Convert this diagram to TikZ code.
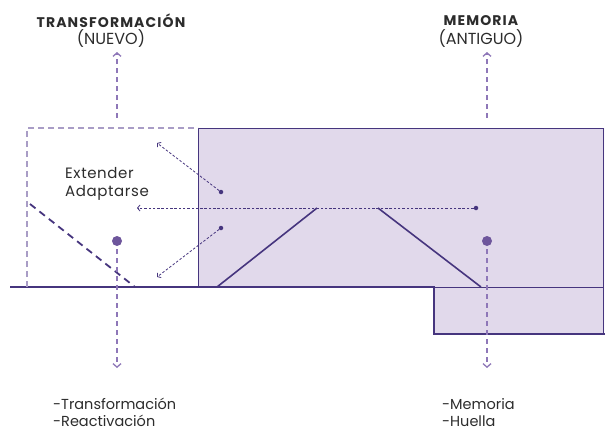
\documentclass[tikz,border=0pt]{standalone}
\usepackage{fontspec}
\setmainfont{Poppins}
\newfontfamily\spaced[LetterSpace=8]{Poppins}
\newfontfamily\slight[LetterSpace=4]{Poppins}
\usetikzlibrary{arrows.meta}
\definecolor{fillpurple}{HTML}{E1D9EB}
\definecolor{linepurple}{HTML}{46357E}
\definecolor{dashpurple}{HTML}{8E77B8}
\definecolor{rectdash}{HTML}{A99DC6}
\definecolor{dotpurple}{HTML}{6E569C}
\definecolor{txtgray}{HTML}{2C2C2C}
\tikzset{
  ground/.style={draw=linepurple, line width=2pt},
  thinedge/.style={draw=linepurple, line width=0.9pt},
  vdash/.style={draw=dashpurple, line width=1.3pt, dash pattern=on 5pt off 4pt, -{Straight Barb[length=3.5pt,width=8pt,line width=1.3pt]}},
  dotarrow/.style={draw=linepurple, line width=0.8pt, dash pattern=on 2.5pt off 1.8pt, -{Straight Barb[length=2.5pt,width=6pt,line width=0.8pt]}},
  newrect/.style={draw=rectdash, line width=1.2pt, dash pattern=on 6pt off 4pt},
  diagdash/.style={draw=linepurple, line width=1.8pt, dash pattern=on 7pt off 5pt},
  trap/.style={draw=linepurple, line width=1.6pt},
  bigdot/.style={circle, fill=dotpurple, inner sep=0pt, minimum size=10pt},
  smalldot/.style={circle, fill=linepurple, inner sep=0pt, minimum size=4.5pt},
  title/.style={font=\spaced\fontsize{14}{15}\selectfont\bfseries, text=txtgray, inner sep=0pt},
  sub/.style={font=\fontsize{16}{17}\selectfont, text=txtgray, inner sep=0pt},
  label/.style={font=\fontsize{14.5}{17}\selectfont, text=txtgray, inner sep=0pt, anchor=west, align=left},
  midlabel/.style={font=\slight\fontsize{15}{17}\selectfont, text=txtgray, inner sep=0pt, anchor=west, align=left},
}
\begin{document}
\begin{tikzpicture}[x=1pt,y=-1pt]
\useasboundingbox (0,0) rectangle (608,431);
% filled old box
\fill[fillpurple] (198,128) -- (604,128) -- (604,334) -- (434,334) -- (434,287) -- (198,287) -- cycle;
\draw[thinedge] (198,287) -- (198,128) -- (603,128) -- (603,334);
\draw[thinedge] (434,287) -- (603,287);
% ground line
\draw[ground] (10,287) -- (434,287) -- (434,334) -- (605,334);
% new dashed rectangle
\draw[newrect] (27,287) -- (27,128) -- (198,128);
% diagonal dashed
\coordinate (dA) at (30,204);
\coordinate (dB) at (135,287);
\draw[diagdash] (dA) -- (dB);
% trapezoid sides
\coordinate (t1) at (217,287);
\coordinate (t2) at (317,208);
\coordinate (t3) at (378,208);
\coordinate (t4) at (481,287);
\draw[trap] (t1) -- (t2);
\draw[trap] (t3) -- (t4);
% dots
\node[bigdot] (nd) at (117,241) {};
\node[bigdot] (od) at (487,241) {};
\node[smalldot] (hd) at (476,208) {};
\node[smalldot] (s1) at (221,192) {};
\node[smalldot] (s2) at (221,228) {};
% dotted arrows
\coordinate (hend) at (137,208);
\coordinate (e1) at (157,143);
\coordinate (e2) at (157,277);
\draw[dotarrow] (hd) -- (hend);
\draw[dotarrow] (s1) -- (e1);
\draw[dotarrow] (s2) -- (e2);
% vertical dashed arrows
\coordinate (nup0) at (117,118);
\coordinate (nup1) at (117,52);
\coordinate (oup0) at (487,118);
\coordinate (oup1) at (487,52);
\coordinate (ndn1) at (117,368);
\coordinate (odn1) at (487,368);
\draw[vdash] (nup0) -- (nup1);
\draw[vdash] (oup0) -- (oup1);
\draw[vdash] (nd.south) ++(0,3) -- (ndn1);
\draw[vdash] (od.south) ++(0,3) -- (odn1);
% texts
\node[title] (tT) at (111,21) {TRANSFORMACIÓN};
\node[sub] (tN) at (111,39) {(NUEVO)};
\node[title] (tM) at (481,21) {MEMORIA};
\node[sub] (tA) at (481,39) {(ANTIGUO)};
\node[midlabel] (ext) at (65,173) {Extender};
\node[midlabel] (ada) at (65,193) {Adaptarse};
\node[label] (lt) at (53,404) {-Transformación};
\node[label] (lr) at (53,421) {-Reactivación};
\node[label] (lm) at (442,404) {-Memoria};
\node[label] (lh) at (442,421) {-Huella};
\end{tikzpicture}
\end{document}
